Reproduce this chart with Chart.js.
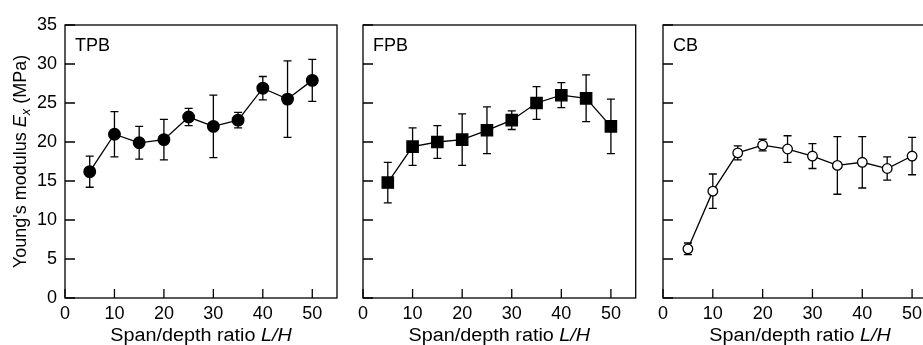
<!DOCTYPE html>
<html lang="en">
<head>
  <meta charset="UTF-8">
  <title>Young's modulus vs span/depth ratio</title>
  <script src="https://cdn.jsdelivr.net/npm/chart.js"></script>
  <style>
    html, body { margin: 0; padding: 0; background: #fff; overflow: hidden; }
    .wrap { position: relative; width: 923px; height: 345px; overflow: hidden; }
    .wrap canvas { position: absolute; top: 0; }
  </style>
</head>
<body>
  <div class="wrap">
    <canvas id="tpbChart" width="345" height="345" style="left:0px"></canvas>
    <canvas id="fpbChart" width="345" height="345" style="left:300px"></canvas>
    <canvas id="cbChart" width="345" height="345" style="left:600px"></canvas>
  </div>

<script>
// span/depth ratio L/H
const spanRatio = [5, 10, 15, 20, 25, 30, 35, 40, 45, 50];

// three-point bending
const tpbMean = [16.2, 21.0, 19.9, 20.3, 23.2, 22.0, 22.8, 26.9, 25.5, 27.9];
const tpbErr  = [2.0, 2.9, 2.1, 2.6, 1.1, 4.0, 1.0, 1.5, 4.9, 2.7];

// four-point bending
const fpbMean = [14.8, 19.4, 20.0, 20.3, 21.5, 22.8, 25.0, 26.0, 25.6, 22.0];
const fpbErr  = [2.6, 2.4, 2.1, 3.3, 3.0, 1.2, 2.1, 1.6, 3.0, 3.5];

// cantilever bending
const cbMean = [6.3, 13.7, 18.6, 19.6, 19.1, 18.2, 17.0, 17.4, 16.6, 18.2];
const cbErr  = [0.75, 2.2, 0.9, 0.75, 1.7, 1.6, 3.7, 3.3, 1.5, 2.4];

const xTicks = [0, 10, 20, 30, 40, 50];
const yTicks = [0, 5, 10, 15, 20, 25, 30, 35];

const FONT = 'Arial, "Liberation Sans", sans-serif';

// error bars, drawn under the markers
const errorBars = {
  id: 'errorBars',
  beforeDatasetsDraw(chart, args, opts) {
    const ctx = chart.ctx;
    const xs = chart.scales.x, ys = chart.scales.y;
    ctx.save();
    ctx.strokeStyle = '#000';
    ctx.lineWidth = 1.3;
    opts.mean.forEach((m, i) => {
      const px = xs.getPixelForValue(spanRatio[i]);
      const top = ys.getPixelForValue(m + opts.err[i]);
      const bot = ys.getPixelForValue(m - opts.err[i]);
      ctx.beginPath();
      ctx.moveTo(px, top); ctx.lineTo(px, bot);
      ctx.moveTo(px - 4, top); ctx.lineTo(px + 4, top);
      ctx.moveTo(px - 4, bot); ctx.lineTo(px + 4, bot);
      ctx.stroke();
    });
    ctx.restore();
  }
};

// box, inward ticks, panel label, axis titles
const frame = {
  id: 'frame',
  afterDraw(chart, args, opts) {
    const ctx = chart.ctx;
    const a = chart.chartArea;
    const xs = chart.scales.x, ys = chart.scales.y;
    ctx.save();
    ctx.strokeStyle = '#000';
    ctx.lineWidth = 1.3;
    ctx.strokeRect(a.left, a.top, a.right - a.left, a.bottom - a.top);
    ctx.beginPath();
    yTicks.forEach(v => {
      const py = ys.getPixelForValue(v);
      ctx.moveTo(a.left, py); ctx.lineTo(a.left + 10, py);
    });
    xTicks.forEach(v => {
      const px = xs.getPixelForValue(v);
      ctx.moveTo(px, a.bottom); ctx.lineTo(px, a.bottom - 9);
    });
    ctx.stroke();

    ctx.fillStyle = '#000';
    ctx.textBaseline = 'alphabetic';
    ctx.textAlign = 'left';
    ctx.font = '18px ' + FONT;
    ctx.fillText(opts.label, a.left + 10, 51);

    // x title: Span/depth ratio L/H  (slightly wide, as in the source figure)
    const part1 = 'Span/depth ratio ', part2 = 'L/H';
    const sx = 1.1;
    ctx.font = '18px ' + FONT;
    const w1 = ctx.measureText(part1).width;
    ctx.font = 'italic 18px ' + FONT;
    const w2 = ctx.measureText(part2).width;
    const cx0 = (a.left + a.right) / 2;
    ctx.save();
    ctx.translate(cx0, 341);
    ctx.scale(sx, 1);
    const x0 = -(w1 + w2) / 2;
    ctx.font = '18px ' + FONT;
    ctx.fillText(part1, x0, 0);
    ctx.font = 'italic 18px ' + FONT;
    ctx.fillText(part2, x0 + w1, 0);
    ctx.restore();

    if (opts.yTitle) {
      const parts = [
        { t: "Young's modulus ", f: '18px ' + FONT, dy: 0 },
        { t: 'E', f: 'italic 18px ' + FONT, dy: 0 },
        { t: 'x', f: 'italic 13px ' + FONT, dy: 4 },
        { t: ' (MPa)', f: '18px ' + FONT, dy: 0 }
      ];
      let total = 0;
      parts.forEach(p => { ctx.font = p.f; p.w = ctx.measureText(p.t).width; total += p.w; });
      ctx.translate(26, (a.top + a.bottom) / 2);
      ctx.rotate(-Math.PI / 2);
      let cx = -total / 2;
      parts.forEach(p => {
        ctx.font = p.f;
        ctx.fillText(p.t, cx, p.dy);
        cx += p.w;
      });
    }
    ctx.restore();
  }
};

function makePanel(id, mean, err, label, pointStyle, radius, fill, showY, leftWidth) {
  return new Chart(document.getElementById(id), {
    type: 'line',
    data: {
      datasets: [{
        data: spanRatio.map((x, i) => ({ x: x, y: mean[i] })),
        borderColor: '#000',
        borderWidth: 1.3,
        pointStyle: pointStyle,
        pointRadius: radius,
        pointBackgroundColor: fill,
        pointBorderColor: '#000',
        pointBorderWidth: 1.3,
        tension: 0
      }]
    },
    options: {
      responsive: false,
      animation: false,
      layout: { padding: { left: 0, top: 25, right: 8, bottom: 0 } },
      plugins: {
        legend: { display: false },
        tooltip: { enabled: false },
        errorBars: { mean: mean, err: err },
        frame: { label: label, yTitle: showY }
      },
      scales: {
        x: {
          type: 'linear', min: 0, max: 55,
          grid: { display: false, drawTicks: false },
          border: { display: false },
          afterBuildTicks: s => { s.ticks = xTicks.map(v => ({ value: v })); },
          afterFit: s => { s.height = 47; },
          ticks: { color: '#000', font: { family: FONT, size: 18 }, padding: 5, maxRotation: 0 }
        },
        y: {
          type: 'linear', min: 0, max: 35,
          grid: { display: false, drawTicks: false },
          border: { display: false },
          afterBuildTicks: s => { s.ticks = yTicks.map(v => ({ value: v })); },
          afterFit: s => { s.width = leftWidth; },
          ticks: { display: showY, color: '#000', font: { family: FONT, size: 18 }, padding: 8 }
        }
      }
    },
    plugins: [errorBars, frame]
  });
}

makePanel('tpbChart', tpbMean, tpbErr, 'TPB', 'circle', 5.8, '#000', true, 65);
makePanel('fpbChart', fpbMean, fpbErr, 'FPB', 'rect', 8, '#000', false, 63);
makePanel('cbChart', cbMean, cbErr, 'CB', 'circle', 4.8, '#fff', false, 63);
</script>
</body>
</html>
